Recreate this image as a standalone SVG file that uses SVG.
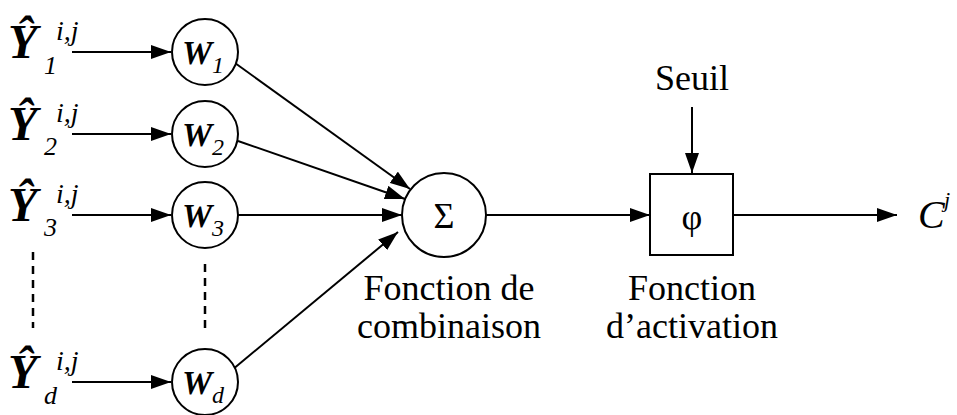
<svg xmlns="http://www.w3.org/2000/svg" width="957" height="415" viewBox="0 0 957 415">
<defs>
<marker id="ah" viewBox="0 0 20 14" refX="20" refY="7" markerWidth="20" markerHeight="14" markerUnits="userSpaceOnUse" orient="auto">
<path d="M0,0 L20,7 L0,14 Z" fill="#000"/>
</marker>
</defs>
<g id="connectors" stroke="#000" stroke-width="2" fill="none">
<g marker-end="url(#ah)">
<line x1="72" y1="52" x2="171" y2="52"/>
<line x1="72" y1="134" x2="171" y2="134"/>
<line x1="72" y1="215" x2="171" y2="215"/>
<line x1="72" y1="382" x2="171" y2="382"/>
<line x1="235" y1="63" x2="410" y2="189"/>
<line x1="238" y1="141" x2="405" y2="199"/>
<line x1="238" y1="215" x2="402" y2="215"/>
<line x1="232" y1="370" x2="398" y2="232"/>
<line x1="486" y1="215" x2="650" y2="215"/>
<line x1="692" y1="107" x2="692" y2="173"/>
<line x1="733" y1="215" x2="897" y2="215"/>
</g>
<g stroke-width="2.5" stroke-dasharray="8,6">
<line x1="33" y1="252" x2="33" y2="328"/>
<line x1="205" y1="264" x2="205" y2="330"/>
</g>
</g>
<g id="in1"><text font-family="Liberation Serif" font-weight="bold" font-style="italic" font-size="48" x="8" y="58">Ŷ</text><text font-family="Liberation Serif" font-style="italic" font-size="28" x="56" y="40">i,j</text><text font-family="Liberation Serif" font-style="italic" font-size="26" x="44" y="74">1</text></g>
<g id="in2"><text font-family="Liberation Serif" font-weight="bold" font-style="italic" font-size="48" x="8" y="140">Ŷ</text><text font-family="Liberation Serif" font-style="italic" font-size="28" x="56" y="122">i,j</text><text font-family="Liberation Serif" font-style="italic" font-size="26" x="44" y="155">2</text></g>
<g id="in3"><text font-family="Liberation Serif" font-weight="bold" font-style="italic" font-size="48" x="8" y="221">Ŷ</text><text font-family="Liberation Serif" font-style="italic" font-size="28" x="56" y="203">i,j</text><text font-family="Liberation Serif" font-style="italic" font-size="26" x="44" y="236">3</text></g>
<g id="ind"><text font-family="Liberation Serif" font-weight="bold" font-style="italic" font-size="48" x="8" y="388">Ŷ</text><text font-family="Liberation Serif" font-style="italic" font-size="28" x="56" y="370">i,j</text><text font-family="Liberation Serif" font-style="italic" font-size="26" x="44" y="404">d</text></g>
<g id="w1"><circle cx="205" cy="52" r="33" stroke="#000" stroke-width="2" fill="#fff"/><text font-family="Liberation Serif" font-weight="bold" font-style="italic" font-size="34" x="182" y="64">W</text><text font-family="Liberation Serif" font-style="italic" font-size="24" x="212" y="73">1</text></g>
<g id="w2"><circle cx="205" cy="134" r="33" stroke="#000" stroke-width="2" fill="#fff"/><text font-family="Liberation Serif" font-weight="bold" font-style="italic" font-size="34" x="182" y="146">W</text><text font-family="Liberation Serif" font-style="italic" font-size="24" x="212" y="155">2</text></g>
<g id="w3"><circle cx="205" cy="215" r="33" stroke="#000" stroke-width="2" fill="#fff"/><text font-family="Liberation Serif" font-weight="bold" font-style="italic" font-size="34" x="182" y="227">W</text><text font-family="Liberation Serif" font-style="italic" font-size="24" x="212" y="236">3</text></g>
<g id="wd"><circle cx="205" cy="382" r="33" stroke="#000" stroke-width="2" fill="#fff"/><text font-family="Liberation Serif" font-weight="bold" font-style="italic" font-size="34" x="182" y="394">W</text><text font-family="Liberation Serif" font-style="italic" font-size="24" x="212" y="403">d</text></g>
<g id="sigma"><circle cx="444" cy="215" r="42" stroke="#000" stroke-width="2" fill="#fff"/><text font-family="Liberation Serif" font-size="36" text-anchor="middle" x="444" y="228">Σ</text><text font-family="Liberation Serif" font-size="36" text-anchor="middle" x="449" y="300">Fonction de</text><text font-family="Liberation Serif" font-size="36" text-anchor="middle" x="449" y="338">combinaison</text></g>
<g id="phi"><rect x="650" y="174" width="83" height="81" stroke="#000" stroke-width="2" fill="#fff"/><text font-family="Liberation Serif" font-size="36" text-anchor="middle" x="692" y="229">φ</text><text font-family="Liberation Serif" font-size="36" text-anchor="middle" x="692" y="300">Fonction</text><text font-family="Liberation Serif" font-size="36" text-anchor="middle" x="692" y="338">d’activation</text></g>
<g id="seuil"><text font-family="Liberation Serif" font-size="36" text-anchor="middle" x="692" y="90">Seuil</text></g>
<g id="out"><text font-family="Liberation Serif" x="918" y="228" font-size="40" font-style="italic">C</text><text font-family="Liberation Serif" x="944" y="207" font-size="22" font-style="italic">j</text></g>
</svg>
